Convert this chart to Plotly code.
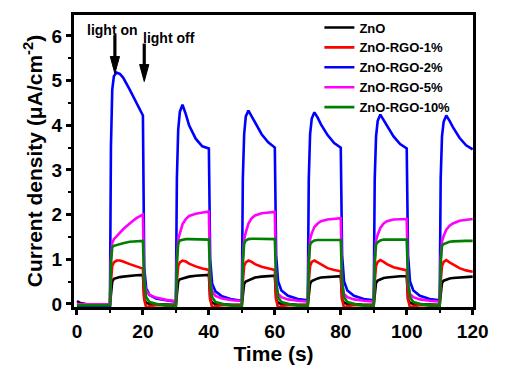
import plotly.graph_objects as go

# Time grid (s)
time_s = [0, 1, 3, 6,
          10, 10.3, 10.7, 11.2, 12, 13, 14, 16, 18, 20, 20.4, 21, 22, 24, 27,
          30, 30.3, 30.7, 31.2, 32, 33, 34, 36, 38, 40, 40.4, 41, 42, 44, 47,
          50, 50.3, 50.7, 51.2, 52, 53, 54, 56, 58, 60, 60.4, 61, 62, 64, 67,
          70, 70.3, 70.7, 71.2, 72, 73, 74, 76, 78, 80, 80.4, 81, 82, 84, 87,
          90, 90.3, 90.7, 91.2, 92, 93, 94, 96, 98, 100, 100.4, 101, 102, 104, 107,
          110, 110.3, 110.7, 111.2, 112, 113, 114, 116, 118, 120]

zno = [0.06, 0.02, -0.01, -0.02,
       -0.02, 0.2, 0.5, 0.56, 0.58, 0.6, 0.61, 0.63, 0.64, 0.65, 0.1, 0.02, 0.0, -0.01, -0.02,
       -0.02, 0.2, 0.5, 0.55, 0.57, 0.59, 0.61, 0.63, 0.64, 0.65, 0.1, 0.02, 0.0, -0.01, -0.02,
       -0.02, 0.2, 0.45, 0.5, 0.53, 0.57, 0.59, 0.61, 0.62, 0.63, 0.1, 0.02, 0.0, -0.01, -0.02,
       -0.02, 0.2, 0.45, 0.51, 0.54, 0.57, 0.59, 0.6, 0.61, 0.62, 0.1, 0.02, 0.0, -0.01, -0.02,
       -0.02, 0.2, 0.47, 0.52, 0.55, 0.58, 0.59, 0.61, 0.62, 0.62, 0.1, 0.02, 0.0, -0.01, -0.02,
       -0.02, 0.2, 0.47, 0.52, 0.55, 0.57, 0.58, 0.59, 0.6, 0.61]

rgo1 = [-0.03, -0.03, -0.03, -0.03,
        -0.03, 0.5, 0.85, 0.93, 0.97, 0.97, 0.95, 0.89, 0.84, 0.79, 0.1, -0.09, -0.05, -0.03, -0.03,
        -0.03, 0.5, 0.85, 0.93, 0.97, 0.95, 0.9, 0.84, 0.79, 0.76, 0.1, -0.09, -0.05, -0.03, -0.03,
        -0.03, 0.5, 0.85, 0.93, 0.97, 0.94, 0.89, 0.83, 0.79, 0.76, 0.1, -0.09, -0.05, -0.03, -0.03,
        -0.03, 0.5, 0.85, 0.94, 0.97, 0.93, 0.88, 0.8, 0.76, 0.73, 0.1, -0.09, -0.05, -0.03, -0.03,
        -0.03, 0.5, 0.85, 0.94, 0.98, 0.94, 0.89, 0.82, 0.78, 0.75, 0.1, -0.09, -0.05, -0.03, -0.03,
        -0.03, 0.5, 0.85, 0.94, 0.98, 0.93, 0.88, 0.8, 0.75, 0.72]

rgo2 = [-0.04, -0.05, -0.05, -0.05,
        -0.05, 3.5, 4.8, 5.1, 5.18, 5.15, 5.07, 4.8, 4.5, 4.22, 0.8, 0.35, 0.2, 0.12, 0.08,
        0.05, 2.8, 3.9, 4.3, 4.46, 4.25, 4.0, 3.7, 3.53, 3.48, 1.0, 0.45, 0.28, 0.17, 0.1,
        0.07, 2.8, 3.8, 4.2, 4.33, 4.2, 4.05, 3.8, 3.62, 3.5, 1.1, 0.5, 0.3, 0.18, 0.11,
        0.08, 2.8, 3.8, 4.15, 4.29, 4.17, 4.02, 3.78, 3.6, 3.5, 1.1, 0.5, 0.3, 0.18, 0.11,
        0.08, 2.8, 3.75, 4.1, 4.24, 4.12, 3.98, 3.75, 3.58, 3.48, 1.1, 0.5, 0.3, 0.18, 0.11,
        0.08, 2.8, 3.75, 4.08, 4.22, 4.1, 3.96, 3.72, 3.55, 3.46]

rgo5 = [0.0, -0.01, -0.01, -0.01,
        -0.01, 1.0, 1.37, 1.45, 1.52, 1.6, 1.67, 1.8, 1.92, 2.0, 0.5, 0.3, 0.2, 0.14, 0.09,
        0.06, 1.0, 1.45, 1.6, 1.78, 1.9, 1.97, 2.02, 2.05, 2.07, 0.5, 0.28, 0.18, 0.12, 0.08,
        0.07, 1.0, 1.45, 1.6, 1.8, 1.92, 1.98, 2.03, 2.05, 2.06, 0.45, 0.22, 0.15, 0.1, 0.07,
        0.05, 1.0, 1.45, 1.58, 1.72, 1.8, 1.85, 1.89, 1.91, 1.92, 0.45, 0.22, 0.15, 0.1, 0.07,
        0.05, 1.0, 1.42, 1.55, 1.7, 1.8, 1.85, 1.89, 1.9, 1.9, 0.45, 0.22, 0.15, 0.1, 0.07,
        0.05, 1.0, 1.4, 1.52, 1.66, 1.75, 1.8, 1.86, 1.88, 1.9]

rgo10 = [-0.03, -0.03, -0.03, -0.03,
         -0.03, 0.9, 1.27, 1.3, 1.32, 1.34, 1.36, 1.39, 1.4, 1.41, 0.5, 0.15, 0.04, 0.0, -0.04,
         -0.05, 0.9, 1.35, 1.42, 1.44, 1.45, 1.45, 1.45, 1.45, 1.44, 0.5, 0.15, 0.04, 0.0, -0.04,
         -0.05, 0.9, 1.35, 1.42, 1.45, 1.46, 1.46, 1.46, 1.46, 1.45, 0.5, 0.15, 0.04, 0.0, -0.04,
         -0.05, 0.9, 1.33, 1.38, 1.42, 1.43, 1.43, 1.43, 1.43, 1.43, 0.5, 0.15, 0.04, 0.0, -0.04,
         -0.05, 0.9, 1.33, 1.38, 1.42, 1.44, 1.44, 1.44, 1.44, 1.44, 0.5, 0.15, 0.04, 0.0, -0.04,
         -0.05, 0.9, 1.3, 1.34, 1.37, 1.39, 1.4, 1.41, 1.41, 1.41]

series_names = ["ZnO", "ZnO-RGO-1%", "ZnO-RGO-2%", "ZnO-RGO-5%", "ZnO-RGO-10%"]
series_values = [zno, rgo1, rgo2, rgo5, rgo10]
series_colors = ["#000000", "#ff0000", "#0000ff", "#ff00ff", "#008000"]

# light on / light off markers: (label, label x, label y, arrow x, arrow tail y, arrow tip y)
markers = [("light on", 10.8, 6.14, 11.5, 6.02, 5.16),
           ("light off", 28.0, 5.96, 20.4, 5.83, 4.98)]

FONT = "Arial, Liberation Sans, sans-serif"

fig = go.Figure()
for name, vals, col in zip(series_names, series_values, series_colors):
    fig.add_trace(go.Scatter(x=time_s, y=vals, mode="lines", name=name,
                             line=dict(color=col, width=2.6)))

axis_common = dict(showline=True, linewidth=3, linecolor="black", mirror=True,
                   ticks="outside", ticklen=5, tickwidth=2.5, tickcolor="black",
                   showgrid=False, zeroline=False, automargin=False,
                   tickfont=dict(family=FONT, size=19, color="black", weight="bold"))

fig.update_xaxes(range=[-0.9, 120.1], tick0=0, dtick=20,
                 minor=dict(ticks="outside", dtick=10, ticklen=3, tickwidth=2, tickcolor="black"),
                 title=dict(text="Time (s)", standoff=0,
                            font=dict(family=FONT, size=21, color="black", weight="bold")),
                 **axis_common)
fig.update_yaxes(range=[-0.07, 6.47], tick0=0, dtick=1,
                 minor=dict(ticks="outside", dtick=0.5, ticklen=3, tickwidth=2, tickcolor="black"),
                 title=dict(text="Current density (μA/cm<sup>-2</sup>)", standoff=4,
                            font=dict(family=FONT, size=21, color="black", weight="bold")),
                 **axis_common)

ann_font = dict(family=FONT, size=14, color="black", weight="bold")
head_len = 0.38   # y-units
head_half = 1.4   # x-units
for label, lx, ly, axx, tail, tip in markers:
    fig.add_annotation(x=lx, y=ly, xref="x", yref="y", text=label, showarrow=False,
                       font=ann_font, xanchor="center", yanchor="middle")
    fig.add_shape(type="line", xref="x", yref="y", x0=axx, x1=axx, y0=tail, y1=tip + head_len,
                  line=dict(color="black", width=3.2))
    fig.add_shape(type="path", xref="x", yref="y",
                  path=f"M {axx - head_half},{tip + head_len} L {axx + head_half},{tip + head_len} L {axx},{tip} Z",
                  fillcolor="black", line=dict(color="black", width=1))

fig.update_layout(
    width=517, height=378,
    margin=dict(l=66, r=52, t=6, b=79),
    paper_bgcolor="white", plot_bgcolor="white",
    showlegend=True,
    legend=dict(x=0.615, y=1.005, xanchor="left", yanchor="top",
                bgcolor="rgba(0,0,0,0)", borderwidth=0, itemwidth=30,
                tracegroupgap=0,
                font=dict(family=FONT, size=13, color="black", weight="bold")),
)

fig.write_html("out.html")
